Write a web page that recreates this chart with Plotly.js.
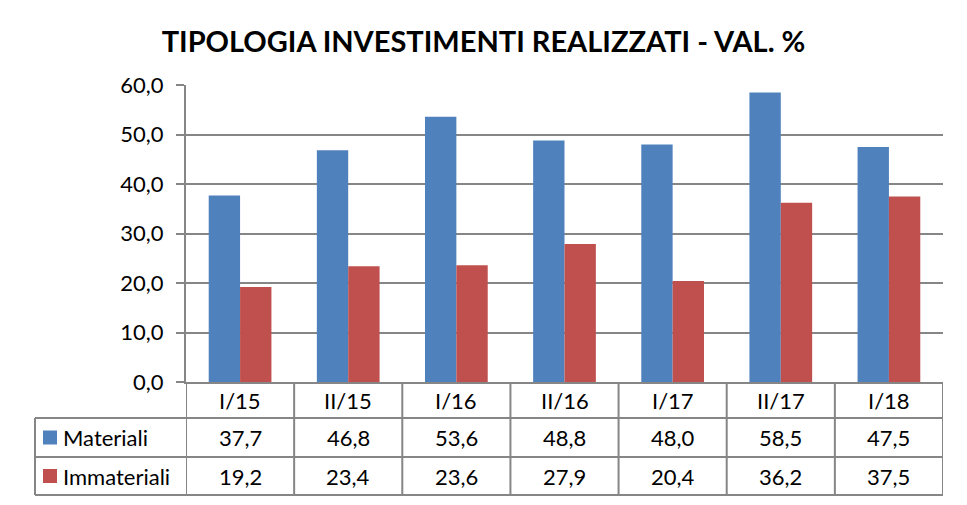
<!DOCTYPE html>
<html><head><meta charset="utf-8">
<script src="https://cdn.plot.ly/plotly-3.0.1.min.js"></script>
<style>body{margin:0;background:#fff}#c{width:967px;height:505px}</style>
</head><body><div id="c"></div>
<script>
const categories = ["I/15","II/15","I/16","II/16","I/17","II/17","I/18"];
const materiali = [37.7,46.8,53.6,48.8,48.0,58.5,47.5];
const immateriali = [19.2,23.4,23.6,27.9,20.4,36.2,37.5];
const seriesNames = ["Materiali","Immateriali"];
const colors = ["#4F81BD","#C0504D"];
const titleText = "TIPOLOGIA INVESTIMENTI REALIZZATI - VAL. %";

const FONT = "Lato, 'Open Sans', sans-serif";
const FS = 22;
const gray = "#868686";
const plotL = 186, plotR = 943, plotT = 85, plotB = 382, W = 967, H = 505;
const pw = plotR - plotL, ph = plotB - plotT;
const px = v => (v - plotL) / pw;
const py = v => (plotB - v) / ph;
const fmt = v => v.toFixed(1).replace(".", ",");

const rowLines = [418, 457, 495];
const shapes = [];
const annotations = [];
rowLines.forEach(r => shapes.push({type:"line", xref:"paper", yref:"paper", x0:px(35), x1:px(plotR), y0:py(r), y1:py(r), line:{color:gray, width:2}}));
for (let k = 0; k <= categories.length; k++) {
  shapes.push({type:"line", xref:"x", yref:"paper", x0:k-0.5, x1:k-0.5, y0:py(plotB), y1:py(495), line:{color:gray, width:2}});
}
shapes.push({type:"line", xref:"paper", yref:"paper", x0:px(35), x1:px(35), y0:py(418), y1:py(495), line:{color:gray, width:2}});

const series = [materiali, immateriali];
const rowCenters = [(418+457)/2, (457+495)/2];
categories.forEach((c, i) => annotations.push({x:i, y:py((plotB+418)/2), xref:"x", yref:"paper", text:c, showarrow:false, font:{family:FONT, size:FS, color:"#000"}, xanchor:"center", yanchor:"middle"}));
series.forEach((s, r) => {
  shapes.push({type:"rect", xref:"paper", yref:"paper", x0:px(43), x1:px(57), y0:py(rowCenters[r]-7), y1:py(rowCenters[r]+7), fillcolor:colors[r], line:{width:0}});
  annotations.push({x:px(61), y:py(rowCenters[r]), xref:"paper", yref:"paper", text:seriesNames[r], showarrow:false, font:{family:FONT, size:FS, color:"#000"}, xanchor:"left", yanchor:"middle"});
  s.forEach((v, i) => annotations.push({x:i, y:py(rowCenters[r]), xref:"x", yref:"paper", text:fmt(v), showarrow:false, font:{family:FONT, size:FS, color:"#000"}, xanchor:"center", yanchor:"middle"}));
});

const data = series.map((s, r) => ({
  type:"bar", x:categories, y:s, name:seriesNames[r], marker:{color:colors[r]}, hoverinfo:"skip"
}));

const layout = {
  width:W, height:H,
  margin:{l:plotL, r:W-plotR, t:plotT, b:H-plotB, pad:0},
  paper_bgcolor:"#fff", plot_bgcolor:"#fff",
  separators:",.",
  showlegend:false,
  barmode:"group", bargap:0.42, bargroupgap:0,
  title:{text:"<b>"+titleText+"</b>", x:0.5, xref:"container", xanchor:"center", yref:"container", y:1-42/H, yanchor:"middle", font:{family:FONT, size:29, color:"#000"}},
  xaxis:{type:"category", range:[-0.5, categories.length-0.5], showticklabels:false, ticks:"", showgrid:false, showline:true, linecolor:gray, linewidth:2, zeroline:false, fixedrange:true},
  yaxis:{range:[0,60], dtick:10, tickformat:".1f", ticks:"outside", ticklen:8, tickcolor:gray, tickwidth:2, showgrid:true, gridcolor:gray, gridwidth:2, showline:true, linecolor:gray, linewidth:2, zeroline:false, ticklabelstandoff:8, tickfont:{family:FONT, size:FS, color:"#000"}, fixedrange:true},
  shapes:shapes, annotations:annotations
};
Plotly.newPlot("c", data, layout, {staticPlot:true, displayModeBar:false});
</script></body></html>
